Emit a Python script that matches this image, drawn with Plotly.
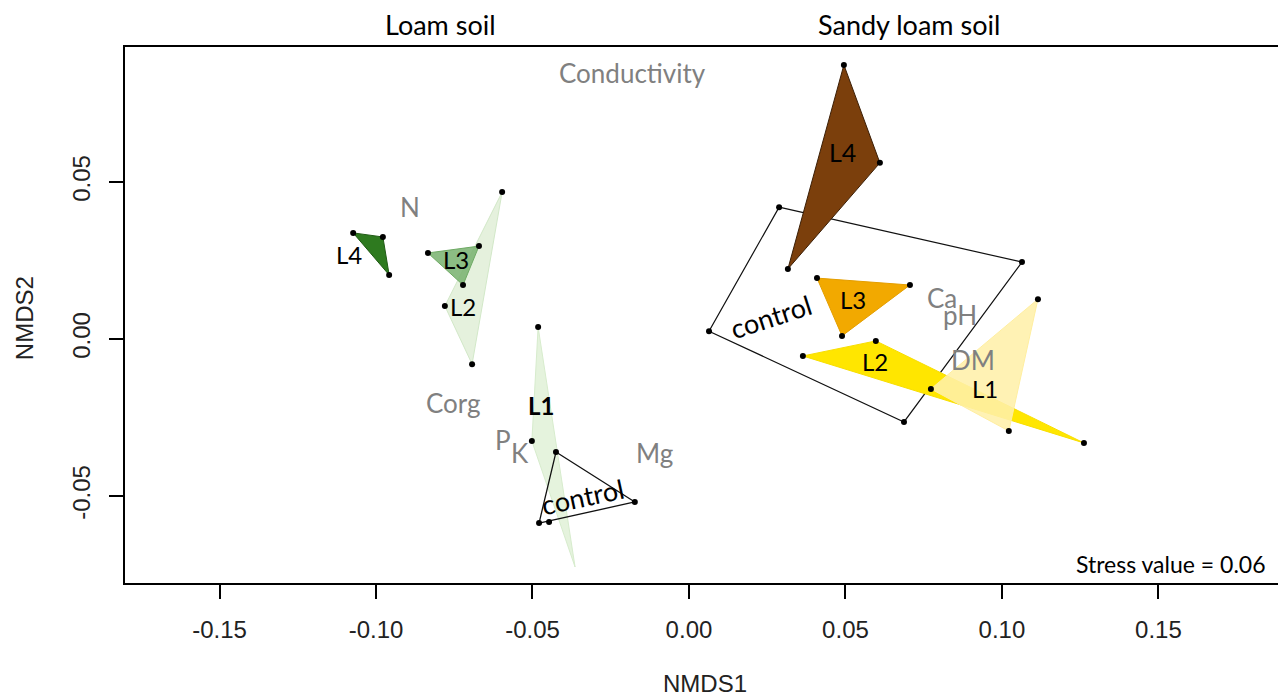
import plotly.graph_objects as go

# ---------------- data (NMDS scores) ----------------
# Loam soil groups (hull vertices)
loam_L4_x = [-0.1073, -0.0978, -0.0958]
loam_L4_y = [0.0338, 0.0325, 0.0204]
loam_L3_x = [-0.0834, -0.0671, -0.0722]
loam_L3_y = [0.0274, 0.0296, 0.0172]
loam_L2_x = [-0.0597, -0.0780, -0.0693]
loam_L2_y = [0.0468, 0.0105, -0.0080]
loam_L1_x = [-0.0482, -0.0502, -0.0364]
loam_L1_y = [0.0038, -0.0325, -0.0726]
loam_C_x = [-0.0425, -0.0173, -0.0447, -0.0479]
loam_C_y = [-0.0360, -0.0519, -0.0583, -0.0586]

# Sandy loam soil groups
sandy_L4_x = [0.0495, 0.0610, 0.0316]
sandy_L4_y = [0.0873, 0.0561, 0.0223]
sandy_C_x = [0.0288, 0.1064, 0.0687, 0.0064]
sandy_C_y = [0.0420, 0.0245, -0.0264, 0.0025]
sandy_L3_x = [0.0409, 0.0706, 0.0489]
sandy_L3_y = [0.0194, 0.0172, 0.0010]
sandy_L2_x = [0.0364, 0.0597, 0.1262]
sandy_L2_y = [-0.0054, -0.0006, -0.0331]
sandy_L1_x = [0.1115, 0.0773, 0.1022]
sandy_L1_y = [0.0127, -0.0159, -0.0293]

# environmental variables (fitted scores)
env_names = ["Conductivity", "N", "Corg", "P", "K", "Mg", "Ca", "pH", "DM"]
env_x = [-0.0182, -0.0891, -0.0754, -0.0594, -0.0540, -0.0109, 0.0808, 0.0865, 0.0907]
env_y = [0.0847, 0.0420, -0.0204, -0.0322, -0.0363, -0.0363, 0.0131, 0.0076, -0.0067]

# group label placements
grp_names = ["L4", "L3", "L2", "L1", "control", "L4", "L3", "L2", "L1", "control"]
grp_lx = [-0.1086, -0.0744, -0.0722, -0.0473, -0.0339, 0.0492, 0.0524, 0.0594, 0.0946, 0.0262]
grp_ly = [0.0268, 0.0252, 0.0105, -0.0213, -0.0503, 0.0596, 0.0127, -0.0070, -0.0159, 0.0073]
grp_angle = [0, 0, 0, 0, -12, 0, 0, 0, 0, -18]
grp_size = [24, 24, 24, 24, 27, 25, 24, 24, 24, 27]
grp_bold = [False, False, False, True, False, False, False, False, False, False]

x_ticks = [-0.15, -0.10, -0.05, 0.00, 0.05, 0.10, 0.15]
y_ticks = [-0.05, 0.00, 0.05]

CAL = "Lato, 'Open Sans', sans-serif"
ARIAL = "'Liberation Sans', Arial, sans-serif"

fig = go.Figure()

def poly(xs, ys, fill, line, lw=1.0):
    fig.add_trace(go.Scatter(
        x=xs + xs[:1], y=ys + ys[:1], mode="lines", fill="toself",
        fillcolor=fill, line=dict(color=line, width=lw),
        hoverinfo="skip", showlegend=False))

# loam polygons
poly(loam_L2_x, loam_L2_y, "rgba(226,240,217,0.9)", "rgba(210,232,200,1)")
poly(loam_L1_x, loam_L1_y, "rgba(226,242,217,0.9)", "rgba(215,236,205,1)")
poly(loam_L3_x, loam_L3_y, "rgba(120,178,110,0.85)", "rgba(110,170,100,1)")
poly(loam_L4_x, loam_L4_y, "#2e7a1f", "#1f5a14")
poly(loam_C_x[:2] + loam_C_x[3:], loam_C_y[:2] + loam_C_y[3:], "rgba(0,0,0,0)", "#111111", 1.3)

# sandy polygons
poly(sandy_C_x, sandy_C_y, "rgba(0,0,0,0)", "#111111", 1.2)
poly(sandy_L4_x, sandy_L4_y, "#7b3f0c", "#3a1e06")
poly(sandy_L3_x, sandy_L3_y, "#f2a900", "#e49e00")
poly(sandy_L2_x, sandy_L2_y, "#ffe600", "#f8de00")
poly(sandy_L1_x, sandy_L1_y, "rgba(255,240,170,0.88)", "rgba(255,238,160,1)")

# points
px = (loam_L4_x + loam_L3_x + loam_L2_x + loam_L1_x[:2] + loam_C_x
      + sandy_L4_x + sandy_C_x + sandy_L3_x + sandy_L2_x + sandy_L1_x)
py = (loam_L4_y + loam_L3_y + loam_L2_y + loam_L1_y[:2] + loam_C_y
      + sandy_L4_y + sandy_C_y + sandy_L3_y + sandy_L2_y + sandy_L1_y)
fig.add_trace(go.Scatter(x=px, y=py, mode="markers",
                         marker=dict(color="black", size=6),
                         hoverinfo="skip", showlegend=False))

ann = []
for n, x, y in zip(env_names, env_x, env_y):
    ann.append(dict(x=x, y=y, xref="x", yref="y", text=n, showarrow=False,
                    font=dict(family=CAL, size=26, color="#808080")))
for n, x, y, a, s, b in zip(grp_names, grp_lx, grp_ly, grp_angle, grp_size, grp_bold):
    ann.append(dict(x=x, y=y, xref="x", yref="y",
                    text=("<b>%s</b>" % n) if b else n, showarrow=False,
                    textangle=a, font=dict(family=CAL, size=s, color="black")))

ann += [
    dict(x=0.274, y=1, xref="paper", yref="paper", xanchor="center", yanchor="middle",
         yshift=23, text="Loam soil", showarrow=False,
         font=dict(family=CAL, size=27, color="black")),
    dict(x=0.680, y=1, xref="paper", yref="paper", xanchor="center", yanchor="middle",
         yshift=23, text="Sandy loam soil", showarrow=False,
         font=dict(family=CAL, size=27, color="black")),
    dict(x=0.991, y=0.036, xref="paper", yref="paper", xanchor="right", yanchor="middle",
         text="Stress value = 0.06", showarrow=False,
         font=dict(family=CAL, size=23, color="black")),
    dict(x=0.503, y=-0.188, xref="paper", yref="paper", xanchor="center", yanchor="middle",
         text="NMDS1", showarrow=False, font=dict(family=ARIAL, size=24, color="#222")),
    dict(x=-0.0872, y=0.495, xref="paper", yref="paper", xanchor="center", yanchor="middle",
         text="NMDS2", showarrow=False, textangle=-90,
         font=dict(family=ARIAL, size=24, color="#222")),
]

fig.update_layout(
    width=1278, height=696, autosize=False,
    margin=dict(l=125, r=0, t=47, b=113),
    plot_bgcolor="white", paper_bgcolor="white",
    annotations=ann,
    xaxis=dict(range=[-0.1802, 0.1882], tickvals=x_ticks,
               ticktext=["%.2f" % v for v in x_ticks],
               showgrid=False, zeroline=False, showline=True, mirror=True,
               linecolor="black", linewidth=1.5, ticks="outside", ticklen=14,
               tickwidth=1.5, tickcolor="black", ticklabelstandoff=10,
               tickfont=dict(family=ARIAL, size=24, color="#222")),
    yaxis=dict(range=[-0.0777, 0.0930], tickvals=y_ticks,
               ticktext=["%.2f" % v for v in y_ticks], tickangle=-90,
               showgrid=False, zeroline=False, showline=True,
               linecolor="black", linewidth=1.5, ticks="outside", ticklen=14,
               tickwidth=1.5, tickcolor="black", ticklabelstandoff=10,
               tickfont=dict(family=ARIAL, size=24, color="#222")),
)

fig.write_html("out.html")
